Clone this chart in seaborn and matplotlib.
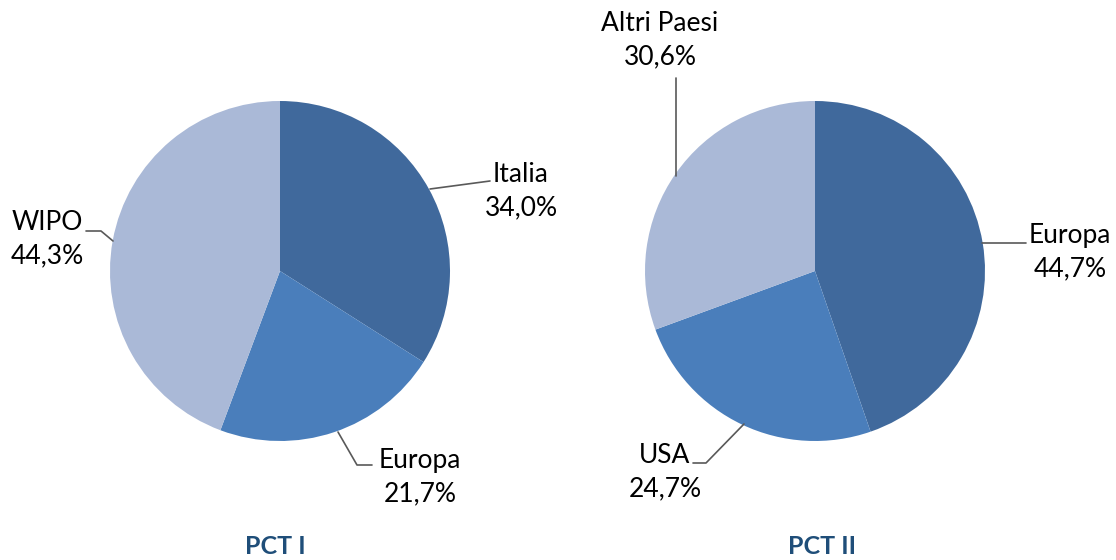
import numpy as np
import matplotlib
matplotlib.use("Agg")
import matplotlib.pyplot as plt
import seaborn as sns

# data
pct1_labels = ["Italia", "Europa", "WIPO"]
pct1_values = [34.0, 21.7, 44.3]
pct2_labels = ["Europa", "USA", "Altri Paesi"]
pct2_values = [44.7, 24.7, 30.6]
titles = ["PCT I", "PCT II"]

colors = ["#40699C", "#4A7EBB", "#AAB9D7"]

sns.set_theme(style="white")
plt.rcParams['font.family'] = ['Lato', 'DejaVu Sans']

W, H = 1116, 560
fig = plt.figure(figsize=(W / 100, H / 100), dpi=100)
ax = fig.add_axes([0, 0, 1, 1])


def py(y):
    # pixel row -> data y
    return H - y


def fmt(v):
    return f"{v:.1f}%".replace(".", ",")


# pie 1
ax.pie(pct1_values, colors=colors, startangle=90, counterclock=False,
       center=(280, py(271)), radius=170, frame=True,
       wedgeprops=dict(linewidth=0))
# pie 2
ax.pie(pct2_values, colors=colors, startangle=90, counterclock=False,
       center=(815, py(271)), radius=170, frame=True,
       wedgeprops=dict(linewidth=0))
ax.set_xlim(0, W)
ax.set_ylim(0, H)
ax.set_aspect("equal")
ax.axis("off")

fs = 19
lc = "#595959"

# label text positions (center of 2-line block) and leader lines
labels = [
    (pct1_labels[0], pct1_values[0], (521, 191), [(430, 189), (490, 181)]),
    (pct1_labels[1], pct1_values[1], (420, 477), [(338, 432), (357, 465), (372, 465)]),
    (pct1_labels[2], pct1_values[2], (47, 239), [(113, 241), (101, 231), (86, 231)]),
    (pct2_labels[0], pct2_values[0], (1070, 252), [(982, 243), (1026, 243)]),
    (pct2_labels[1], pct2_values[1], (665, 472), [(744, 424), (706, 463), (693, 463)]),
    (pct2_labels[2], pct2_values[2], (660, 40), [(676, 176), (676, 78)]),
]
for name, val, (tx, ty), pts in labels:
    ax.text(tx, py(ty), f"{name}\n{fmt(val)}", ha="center", va="center",
            fontsize=fs, color="black", linespacing=1.4)
    xs = [p[0] for p in pts]
    ys = [py(p[1]) for p in pts]
    ax.plot(xs, ys, color=lc, linewidth=1.2)

for tx, t in zip([275, 822], titles):
    ax.text(tx, py(546), t, ha="center", va="center", fontsize=18,
            fontweight="bold", color="#1F4E79")

fig.savefig("out.png", dpi=100)
